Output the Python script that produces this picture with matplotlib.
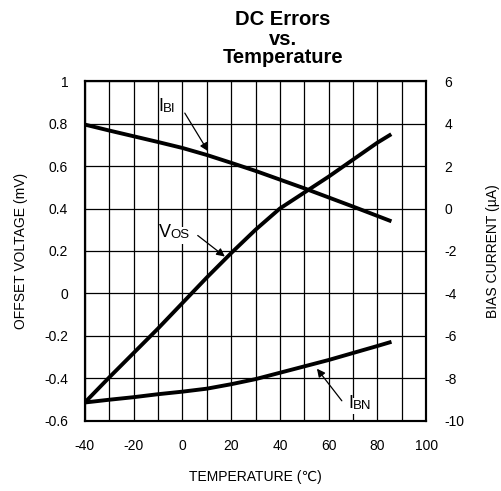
import matplotlib
matplotlib.use('Agg')
import matplotlib.pyplot as plt
import numpy as np

plt.rcParams['font.family'] = ['Liberation Sans', 'DejaVu Sans']

# temperatura (C)
temp = [-40, -30, -20, -10, 0, 10, 20, 30, 40, 50, 60, 70, 80, 85]
# offset voltage (mV) - eixo esquerdo
vos = [-0.513, -0.395, -0.28, -0.165, -0.045, 0.075, 0.19, 0.30, 0.40, 0.475, 0.55, 0.63, 0.71, 0.745]
# bias currents (uA) - eixo direito
ibi = [3.95, 3.67, 3.4, 3.13, 2.85, 2.52, 2.15, 1.77, 1.36, 0.95, 0.52, 0.09, -0.35, -0.57]
ibn = [-9.13, -9.0, -8.88, -8.74, -8.62, -8.48, -8.27, -8.03, -7.73, -7.43, -7.13, -6.8, -6.47, -6.3]

xticks = list(range(-40, 101, 20))
yticks_l = [-0.6, -0.4, -0.2, 0, 0.2, 0.4, 0.6, 0.8, 1]
yticks_r = [-10, -8, -6, -4, -2, 0, 2, 4, 6]
titulo = ['DC Errors', 'vs.', 'Temperature']

fig = plt.figure(figsize=(5.02, 4.91), dpi=100)
ax = fig.add_axes([0.169, 0.1426, 0.68, 0.6924])
ax2 = ax.twinx()

ax.set_xlim(-40, 100)
ax.set_ylim(-0.6, 1)
ax2.set_ylim(-10, 6)

ax.set_xticks(xticks)
ax.set_xticklabels([str(t) for t in xticks])
ax.set_xticks(range(-40, 101, 10), minor=True)
ax.set_yticks(yticks_l)
ax.set_yticklabels(['-0.6', '-0.4', '-0.2', '0', '0.2', '0.4', '0.6', '0.8', '1'])
ax2.set_yticks(yticks_r)
ax2.set_yticklabels([str(t) for t in yticks_r])

ax.grid(True, which='both', color='black', linewidth=0.9)
ax.tick_params(which='both', length=0)
ax.tick_params(axis='y', pad=12, labelsize=10)
ax.tick_params(axis='x', pad=13, labelsize=10)
ax2.tick_params(length=0, pad=13, labelsize=10)
for a in (ax, ax2):
    for s in a.spines.values():
        s.set_linewidth(1.5)
ax.set_axisbelow(True)

ax.plot(temp, vos, color='black', lw=2.8, zorder=3)
ax2.plot(temp, ibi, color='black', lw=2.8, zorder=3)
ax2.plot(temp, ibn, color='black', lw=2.8, zorder=3)

ax.set_xlabel('TEMPERATURE (\u2103)', fontsize=10, labelpad=12)
ax.set_ylabel('OFFSET VOLTAGE (mV)', fontsize=10, labelpad=12)
ax2.set_ylabel('BIAS CURRENT (\u00b5A)', fontsize=10, labelpad=16)

# rotulos das curvas: letra grande + subscrito, com fundo branco
caixa = dict(facecolor='white', edgecolor='none', pad=1.5)
def rotulo(x, y, letra, sub, xs, ys):
    ax.text(xs, ys, sub, fontsize=9.5, ha='left', va='baseline', bbox=caixa, zorder=4)
    ax.text(x, y, letra, fontsize=13, ha='left', va='baseline', zorder=4.5)

rotulo(-9.8, 0.858, 'I', 'BI', -8.0, 0.854)
rotulo(-9.6, 0.264, 'V', 'OS', -5.1, 0.259)
rotulo(68.1, -0.538, 'I', 'BN', 69.9, -0.543)

seta = dict(arrowstyle='-|>', color='black', lw=0.9, mutation_scale=12, shrinkA=0, shrinkB=0)
ax.annotate('', xy=(10.5, 0.67), xytext=(1.0, 0.849), arrowprops=seta, zorder=5)
ax.annotate('', xy=(17.4, 0.174), xytext=(6.3, 0.273), arrowprops=seta, zorder=5)
ax.annotate('', xy=(55.2, -0.354), xytext=(65.4, -0.505), arrowprops=seta, zorder=5)

for linha, base in zip(titulo, [25, 45, 63]):
    fig.text(283 / 502, 1 - base / 491, linha, ha='center', va='baseline',
             fontsize=14.5, fontweight='bold')

fig.savefig('out.png', dpi=100)
